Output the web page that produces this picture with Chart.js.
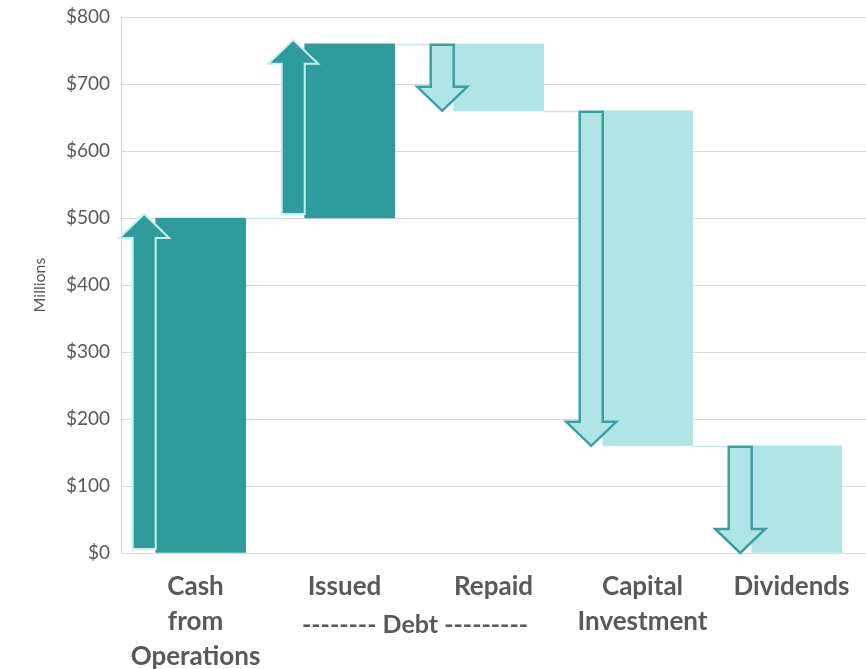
<!DOCTYPE html>
<html>
<head>
<meta charset="utf-8">
<title>Cash flow waterfall</title>
<script src="https://cdn.jsdelivr.net/npm/chart.js@4.4.1/dist/chart.umd.min.js"></script>
<style>
  html, body { margin: 0; padding: 0; background: #fff; }
  #wrap { width: 866px; height: 669px; }
</style>
</head>
<body>
<div id="wrap"><canvas id="flowChart" width="866" height="669"></canvas></div>
<script>
// --- Data (millions) ---
const categories = [
  ["Cash", "from", "Operations"],
  ["Issued"],
  ["Repaid"],
  ["Capital", "Investment"],
  ["Dividends"]
];
const flows      = [500, 260, -100, -500, -160];
const tickValues = [0, 100, 200, 300, 400, 500, 600, 700, 800];
const groupLabel = "-------- Debt ---------";

const DARK  = "#2e9c9d";
const LIGHT = "#b0e5e6";
const TEXT  = "#595959";

// running totals -> floating bar ranges
let running = 0;
const ranges = flows.map(f => {
  const start = running;
  running += f;
  return [start, running];
});

const barData = ranges.map((r, i) => ({ x: i + 0.035, y: r }));

// --- Connectors + arrows drawn over the bars ---
const arrowPlugin = {
  id: "arrows",
  afterDatasetsDraw(chart) {
    const ctx  = chart.ctx;
    const y    = chart.scales.y;
    const bars = chart.getDatasetMeta(0).data;
    const shaftW = 23, headW = 50, headH = 24;

    // thin connectors from each bar end to the next column
    ctx.save();
    ctx.strokeStyle = "#c4ebeb";
    ctx.lineWidth = 1.5;
    bars.forEach((b, i) => {
      if (i === bars.length - 1) return;
      const next = bars[i + 1];
      const yy = Math.round(y.getPixelForValue(ranges[i][1])) + 0.5;
      ctx.beginPath();
      ctx.moveTo(b.x + b.width / 2, yy);
      ctx.lineTo(next.x - next.width / 2 - shaftW, yy);
      ctx.stroke();
    });
    ctx.restore();

    bars.forEach((b, i) => {
      const [s, e] = ranges[i];
      const up = e > s;
      const right = b.x - b.width / 2;
      const left = right - shaftW;
      const cx = (left + right) / 2;
      let base, tip, hb;
      if (up) {
        base = y.getPixelForValue(s) - 4;
        tip  = y.getPixelForValue(e) - 4;
        hb   = tip + headH;
      } else {
        base = y.getPixelForValue(s) + 1;
        tip  = y.getPixelForValue(e);
        hb   = tip - headH;
      }
      ctx.save();
      ctx.beginPath();
      ctx.moveTo(left, base);
      ctx.lineTo(left, hb);
      ctx.lineTo(cx - headW / 2, hb);
      ctx.lineTo(cx, tip);
      ctx.lineTo(cx + headW / 2, hb);
      ctx.lineTo(right, hb);
      ctx.lineTo(right, base);
      ctx.closePath();
      ctx.lineJoin = "miter";
      if (up) {
        ctx.fillStyle = DARK;
        ctx.strokeStyle = "#c8efef";
        ctx.lineWidth = 2;
      } else {
        ctx.fillStyle = LIGHT;
        ctx.strokeStyle = "#3a9fa1";
        ctx.lineWidth = 2.5;
      }
      ctx.fill();
      ctx.stroke();
      ctx.restore();
    });
  },
  afterDraw(chart) {
    // group caption under Issued / Repaid
    const x = chart.scales.x;
    const ctx = chart.ctx;
    ctx.save();
    ctx.font = "bold 25px Lato";
    ctx.fillStyle = TEXT;
    ctx.textAlign = "center";
    ctx.textBaseline = "middle";
    ctx.fillText(groupLabel, (x.getPixelForValue(1) + x.getPixelForValue(2)) / 2 - 4, 625);
    ctx.restore();
  }
};

new Chart(document.getElementById("flowChart"), {
  type: "bar",
  data: {
    datasets: [{
      data: barData,
      backgroundColor: ranges.map(r => r[1] > r[0] ? DARK : LIGHT),
      borderWidth: 0,
      barThickness: 90
    }]
  },
  options: {
    responsive: false,
    animation: false,
    layout: { padding: { top: 17, right: 0, bottom: 0, left: 0 } },
    plugins: {
      legend: { display: false },
      tooltip: { enabled: false }
    },
    scales: {
      x: {
        type: "linear",
        min: -0.5,
        max: 4.5,
        offset: false,
        grid: { display: false, offset: false },
        border: { color: "#d9d9d9" },
        afterBuildTicks: s => { s.ticks = categories.map((_, i) => ({ value: i })); },
        afterFit: s => { s.height = 116; },
        ticks: {
          autoSkip: false,
          maxRotation: 0,
          padding: 8,
          color: TEXT,
          font: { family: "Lato", size: 26, weight: "bold", lineHeight: 1.35 },
          callback: v => categories[v]
        }
      },
      y: {
        min: 0,
        max: 800,
        afterBuildTicks: s => { s.ticks = tickValues.map(v => ({ value: v })); },
        afterFit: s => { s.width = 121; s.paddingTop = 0; s.paddingBottom = 0; },
        grid: { color: "#d9d9d9", drawTicks: false },
        border: { color: "#d9d9d9" },
        ticks: {
          padding: 11,
          color: TEXT,
          font: { family: "Lato", size: 19 },
          callback: v => "$" + v
        },
        title: {
          display: true,
          text: "Millions",
          color: TEXT,
          font: { family: "Lato", size: 16 },
          padding: { top: 30, bottom: 0 }
        }
      }
    }
  },
  plugins: [arrowPlugin]
});
</script>
</body>
</html>
